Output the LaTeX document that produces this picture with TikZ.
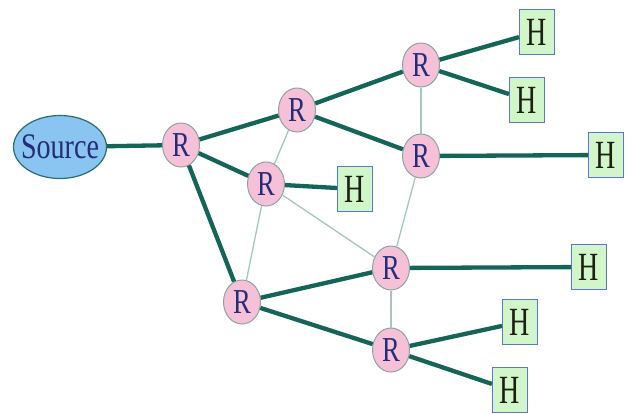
\documentclass[tikz,border=0pt]{standalone}
\usepackage{fontspec}
\setmainfont{Liberation Serif}
\usetikzlibrary{shapes.geometric}
\definecolor{thickc}{RGB}{20,100,88}
\definecolor{thinc}{RGB}{165,198,190}
\definecolor{rfill}{RGB}{246,192,216}
\definecolor{rdraw}{RGB}{140,165,160}
\definecolor{rtext}{RGB}{35,45,120}
\definecolor{sfill}{RGB}{138,196,240}
\definecolor{sdraw}{RGB}{40,110,110}
\definecolor{hfill}{RGB}{208,246,202}
\definecolor{hdraw}{RGB}{90,120,210}
\definecolor{htext}{RGB}{30,30,20}
\tikzset{
  router/.style={ellipse, draw=rdraw, fill=rfill, line width=1pt, inner sep=0pt,
    minimum width=37pt, minimum height=44pt, text=rtext,
    font=\fontsize{35}{35}\selectfont},
  host/.style={rectangle, draw=hdraw, fill=hfill, line width=1pt, inner sep=0pt,
    minimum width=35pt, minimum height=45pt, text=htext,
    font=\fontsize{40}{40}\selectfont},
  srcnode/.style={ellipse, draw=sdraw, fill=sfill, line width=1.2pt, inner sep=0pt,
    minimum width=93pt, minimum height=63pt, text=rtext,
    font=\fontsize{36}{36}\selectfont},
  thickline/.style={draw=thickc, line width=4.3pt},
  thinline/.style={draw=thinc, line width=1.3pt}
}
\newcommand{\sq}[2]{\makebox[0pt]{\scalebox{#1}[1]{#2}}}
\begin{document}
\begin{tikzpicture}[x=1pt,y=-1pt]
\useasboundingbox (0,0) rectangle (626,413);
\node[srcnode] (src) at (60,147) {\sq{0.78}{Source}};
\node[router] (r1) at (181,145) {\sq{0.76}{R}};
\node[router] (r2) at (297,110) {\sq{0.76}{R}};
\node[router] (r3) at (266,184) {\sq{0.76}{R}};
\node[router] (r4) at (242,302) {\sq{0.76}{R}};
\node[router] (r5) at (421,65) {\sq{0.76}{R}};
\node[router] (r6) at (421,156) {\sq{0.76}{R}};
\node[router] (r7) at (391,268) {\sq{0.76}{R}};
\node[router] (r8) at (391,350) {\sq{0.76}{R}};
\node[host] (hm) at (355,189) {\sq{0.7}{H}};
\node[host] (h1) at (537,32) {\sq{0.7}{H}};
\node[host] (h2) at (527,100) {\sq{0.7}{H}};
\node[host] (h3) at (606,155) {\sq{0.7}{H}};
\node[host] (h4) at (589,267) {\sq{0.7}{H}};
\node[host] (h5) at (520,322) {\sq{0.7}{H}};
\node[host] (h6) at (510,390) {\sq{0.7}{H}};
% thin links
\draw[thinline] (r2) -- (r3);
\draw[thinline] (r3) -- (r4);
\draw[thinline] (r3) -- (r7);
\draw[thinline] (r5) -- (r6);
\draw[thinline] (r6) -- (r7);
\draw[thinline] (r7) -- (r8);
% thick links
\draw[thickline] (src) -- (r1);
\draw[thickline] (r1) -- (r2);
\draw[thickline] (r1) -- (r3);
\draw[thickline] (r1) -- (r4);
\draw[thickline] (r2) -- (r5);
\draw[thickline] (r2) -- (r6);
\draw[thickline] (r3) -- (hm);
\draw[thickline] (r5) -- (h1);
\draw[thickline] (r5) -- (h2);
\draw[thickline] (r6) -- (h3);
\draw[thickline] (r4) -- (r7);
\draw[thickline] (r4) -- (r8);
\draw[thickline] (r7) -- (h4);
\draw[thickline] (r8) -- (h5);
\draw[thickline] (r8) -- (h6);
\end{tikzpicture}
\end{document}
